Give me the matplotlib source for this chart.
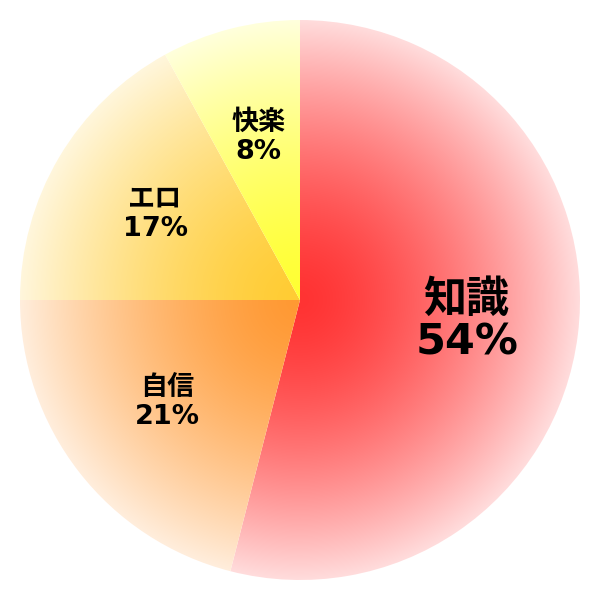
import numpy as np
import matplotlib
matplotlib.use("Agg")
import matplotlib.pyplot as plt
from matplotlib.colors import to_rgb

labels = ["知識", "自信", "エロ", "快楽"]
values = [54, 21, 17, 8]
colors = ["#ff3333", "#ff9933", "#ffcc33", "#ffff33"]
font_sizes = [31, 19.5, 19.5, 19.5]

fig = plt.figure(figsize=(6, 6), dpi=100)
ax = fig.add_axes([0, 0, 1, 1])

wedges, _ = ax.pie(values, startangle=90, counterclock=False, radius=1,
                   wedgeprops=dict(linewidth=0))

# radial fade from the full colour at the centre to a pale tint at the rim
n = 600
xs = np.linspace(-1, 1, n)
X, Y = np.meshgrid(xs, xs)
R = np.clip(np.sqrt(X ** 2 + Y ** 2), 0, 1)
alpha = 1 - 0.83 * R ** 1.5

for w, c in zip(wedges, colors):
    w.set_facecolor("none")
    rgb = np.array(to_rgb(c))
    img = 1 - alpha[..., None] * (1 - rgb)
    im = ax.imshow(img, extent=(-1, 1, -1, 1), origin="lower", zorder=1,
                   interpolation="bilinear")
    im.set_clip_path(w)

for w, lab, v, fs in zip(wedges, labels, values, font_sizes):
    mid = np.deg2rad((w.theta1 + w.theta2) / 2)
    x, y = 0.6 * np.cos(mid), 0.6 * np.sin(mid)
    ls = 1.02 if fs > 25 else 1.15
    ax.text(x, y, f"{lab}\n{v}%", ha="center", va="center", fontsize=fs,
            fontweight="bold", linespacing=ls, zorder=3,
            family=["DejaVu Sans", "Noto Sans CJK JP"])

lim = 600 / 560
ax.set_xlim(-lim, lim)
ax.set_ylim(-lim, lim)
ax.set_aspect("equal")
ax.axis("off")

fig.savefig("out.png", dpi=100)
